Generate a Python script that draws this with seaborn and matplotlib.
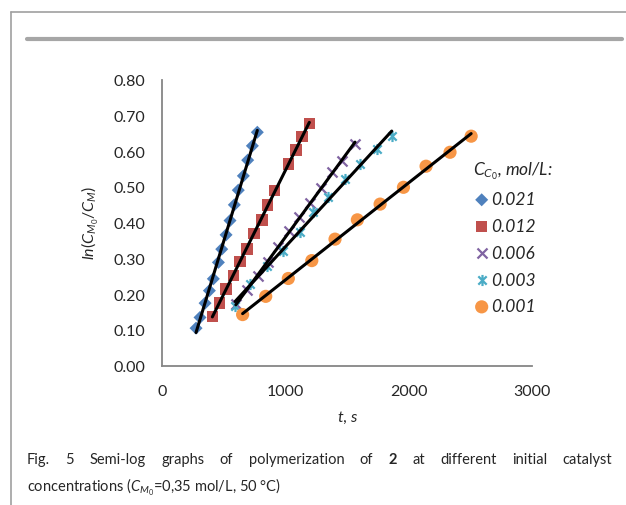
import numpy as np
import seaborn as sns
import matplotlib.pyplot as plt
import matplotlib.ticker as ticker
from matplotlib.path import Path
from matplotlib.lines import Line2D

# concentration of catalyst, mol/L
conc = ['0.021', '0.012', '0.006', '0.003', '0.001']

# time, s  /  ln(CM0/CM)
t_021 = [278, 310, 351, 386, 418, 459, 486, 521, 553, 588, 620, 661, 696, 734, 774]
v_021 = [0.105, 0.135, 0.175, 0.210, 0.243, 0.289, 0.326, 0.366, 0.406, 0.450, 0.491, 0.531, 0.575, 0.615, 0.653]

t_012 = [410, 467, 521, 580, 634, 688, 747, 810, 855, 912, 1025, 1085, 1138, 1195]
v_012 = [0.138, 0.176, 0.215, 0.252, 0.291, 0.326, 0.370, 0.408, 0.450, 0.490, 0.564, 0.604, 0.641, 0.678]

t_006 = [600, 690, 782, 860, 944, 1030, 1115, 1201, 1290, 1375, 1460, 1565]
v_006 = [0.172, 0.212, 0.250, 0.290, 0.333, 0.378, 0.416, 0.455, 0.497, 0.541, 0.573, 0.620]

t_003 = [594, 715, 850, 985, 1120, 1228, 1349, 1484, 1606, 1741, 1862]
v_003 = [0.166, 0.229, 0.280, 0.322, 0.373, 0.431, 0.471, 0.522, 0.564, 0.606, 0.643]

t_001 = [655, 842, 1025, 1215, 1403, 1584, 1768, 1957, 2140, 2334, 2505]
v_001 = [0.143, 0.194, 0.244, 0.294, 0.354, 0.408, 0.452, 0.499, 0.558, 0.597, 0.642]

series_t = [t_021, t_012, t_006, t_003, t_001]
series_v = [v_021, v_012, v_006, v_003, v_001]

colors = ['#4F81BD', '#C0504D', '#8064A2', '#4BACC6', '#F79646']

# excel-like star marker: x with a vertical bar
star = Path([(0, -1), (0, 1), (-0.75, -0.75), (0.75, 0.75), (-0.75, 0.75), (0.75, -0.75)],
            [Path.MOVETO, Path.LINETO] * 3)
markers = ['D', 's', 'x', star, 'o']
sizes = [44, 70, 52, 64, 90]

sns.set_style('white')
plt.rcParams['font.family'] = ['Lato', 'DejaVu Sans']
plt.rcParams['mathtext.fontset'] = 'custom'
plt.rcParams['mathtext.it'] = 'Lato:italic'
plt.rcParams['mathtext.rm'] = 'Lato'

W, H = 626, 506
fig = plt.figure(figsize=(W / 100, H / 100), dpi=100)
ax = fig.add_axes([161.7 / W, 1 - 366.7 / H, (532.3 - 161.7) / W, (366.7 - 80.7) / H])

for t, v, c, m, s, lab in zip(series_t, series_v, colors, markers, sizes, conc):
    if m in ('x',) or isinstance(m, Path):
        sns.scatterplot(x=t, y=v, ax=ax, marker=m, s=s, color=c, edgecolor=c,
                        linewidth=1.6, label=lab, zorder=3)
    else:
        sns.scatterplot(x=t, y=v, ax=ax, marker=m, s=s, color=c, edgecolor='none',
                        linewidth=0, label=lab, zorder=3)

# linear fits
for t, v in zip(series_t, series_v):
    sns.regplot(x=np.array(t), y=np.array(v), ax=ax, scatter=False, ci=None, truncate=True,
                color='black', line_kws=dict(lw=2.2, zorder=4))

ax.set_xlim(0, 3000)
ax.set_ylim(0, 0.8)
ax.set_xlabel('')
ax.set_ylabel('')
ax.xaxis.set_major_locator(ticker.MultipleLocator(1000))
ax.yaxis.set_major_locator(ticker.MultipleLocator(0.1))
ax.yaxis.set_major_formatter(ticker.FormatStrFormatter('%.2f'))

gray = '#868686'
sns.despine(ax=ax)
for sp in ['left', 'bottom']:
    ax.spines[sp].set_color(gray)
    ax.spines[sp].set_linewidth(1.3)
ax.tick_params(axis='y', direction='out', length=5, width=1.2, color=gray, labelsize=11.5, pad=7)
ax.tick_params(axis='x', direction='in', length=5, width=1.2, color=gray, labelsize=11.5, pad=13)

fig.text(90 / W, 1 - 223 / H, r'$\mathit{ln(C_{M_0}/C_M)}$', rotation=90,
         ha='center', va='center', fontsize=11.5)
fig.text(348 / W, 1 - 418 / H, 't, s', style='italic', ha='center', va='center', fontsize=11.5)

leg = ax.legend(title=r'$C_{C_0}$, mol/L:', loc='upper left',
                bbox_to_anchor=(473 / W, 1 - 160 / H), bbox_transform=fig.transFigure,
                frameon=False, prop=dict(family='Lato', style='italic', size=12.5),
                title_fontproperties=dict(family='Lato', style='italic', size=12.5),
                handletextpad=0.05, handlelength=1.0, labelspacing=0.62,
                borderaxespad=0, borderpad=0, alignment='left')

# page frame and rule
fig.add_artist(Line2D([11 / W, 11 / W], [0, 1 - 13 / H], color='#A0A0A0', lw=1.2))
fig.add_artist(Line2D([11 / W, 1], [1 - 13 / H, 1 - 13 / H], color='#A0A0A0', lw=1.2))
fig.add_artist(Line2D([27 / W, 622 / W], [1 - 40 / H, 1 - 40 / H], color='#A6A6A6', lw=3))

# justified caption line
renderer = fig.canvas.get_renderer()
words = ['Fig.', '5', 'Semi-log', 'graphs', 'of', 'polymerization', 'of', '2', 'at',
         'different', 'initial', 'catalyst']
cap_size = 10.5
texts = []
for w in words:
    texts.append(fig.text(0, 1 - 460 / H, w, fontsize=cap_size, va='center', ha='left',
                          weight='bold' if w == '2' else 'normal'))
widths = [tx.get_window_extent(renderer).width for tx in texts]
x0, x1 = 27, 612
gap = (x1 - x0 - sum(widths)) / (len(words) - 1)
x = x0
for tx, wd in zip(texts, widths):
    tx.set_x(x / W)
    x += wd + gap
fig.text(27 / W, 1 - 487 / H, r'concentrations ($C_{M_0}$=0,35 mol/L, 50 °C)',
         fontsize=cap_size, va='center', ha='left')

fig.savefig('out.png', dpi=100)
